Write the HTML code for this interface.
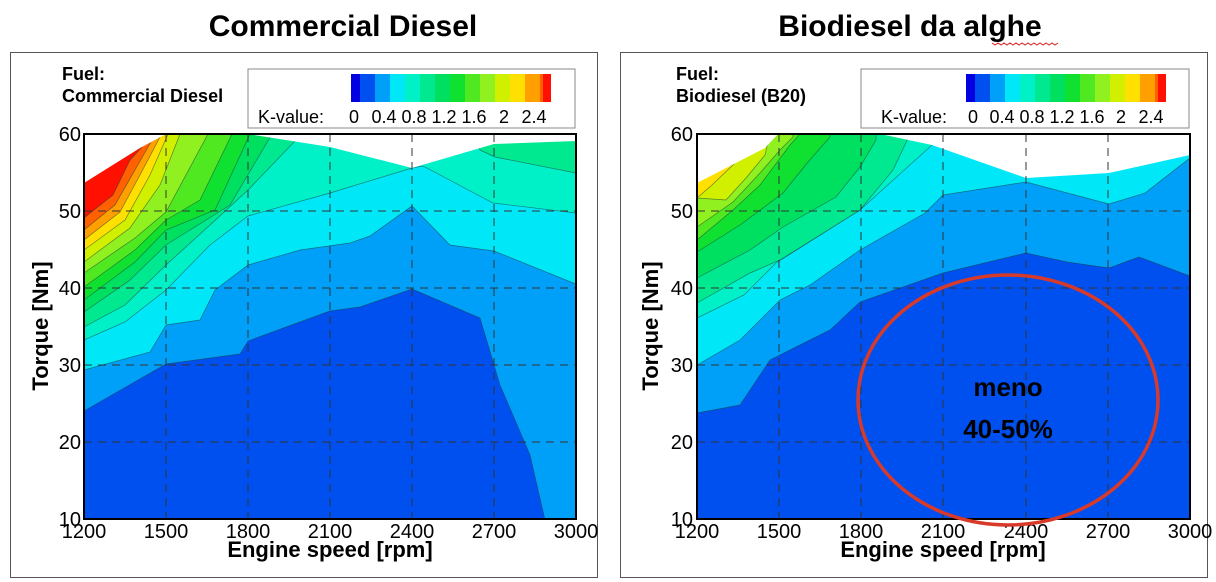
<!DOCTYPE html>
<html><head><meta charset="utf-8"><style>
html,body{margin:0;padding:0;background:#fff;}
svg{display:block;font-family:"Liberation Sans",sans-serif;}
</style></head><body>
<svg width="1216" height="582" viewBox="0 0 1216 582" xmlns="http://www.w3.org/2000/svg">
<defs>
<clipPath id="cl"><rect x="84" y="134" width="492" height="385"/></clipPath>
<clipPath id="cr"><rect x="697" y="134" width="493" height="385"/></clipPath>
</defs>
<rect width="1216" height="582" fill="#fff"/>
<text x="343" y="36" font-size="30" font-weight="bold" text-anchor="middle">Commercial Diesel</text>
<text x="910" y="36" font-size="30" font-weight="bold" text-anchor="middle">Biodiesel da alghe</text>
<path d="M992 43 l3 2 l3 -2 l3 2 l3 -2 l3 2 l3 -2 l3 2 l3 -2 l3 2 l3 -2 l3 2 l3 -2 l3 2 l3 -2 l3 2 l3 -2 l3 2 l3 -2 l3 2 l3 -2 l3 2 l3 -2" stroke="#e02020" fill="none" stroke-width="1"/>
<rect x="10.5" y="52.5" width="587" height="525" fill="none" stroke="#555"/>
<rect x="620.5" y="52.5" width="587" height="525" fill="none" stroke="#555"/>

<!-- LEFT CHART -->
<g clip-path="url(#cl)" stroke="#1a3a3a" stroke-width="0.7" stroke-opacity="0.6">
<rect x="84" y="120" width="492" height="400" fill="#00e8f8" stroke="none"/>
<polygon fill="#00a0f8" points="84,370 150,352 166,325 200,320 215,290 248,265 300,250 350,243 370,236 412,206 450,245 494,251 576,284 576,520 84,520"/>
<polygon fill="#0050f0" points="84,411 166,364 240,354 248,341 330,311 360,307 412,289 480,318 500,385 530,455 545,520 84,520"/>
<polygon fill="#00f0c8" points="84,340 125,322 166,290 210,245 248,216 330,193 412,168 423,166 493,203 576,213 576,120 84,120"/>
<polygon fill="#00e890" points="480,150 495,157 576,173 576,120 470,120"/>
<polygon fill="#00e890" points="84,327 125,305 166,265 210,225 248,190 296,140 296,120 84,120"/>
<polygon fill="#00e060" points="84,312 130,280 166,245 230,205 272,134 272,120 84,120"/>
<polygon fill="#10e030" points="84,300 135,262 166,230 215,210 250,134 250,120 84,120"/>
<polygon fill="#50e820" points="84,287 135,250 166,220 200,200 232,134 232,120 84,120"/>
<polygon fill="#90f020" points="84,273 135,238 166,212 208,134 208,120 84,120"/>
<polygon fill="#d0f000" points="84,262 130,228 160,185 180,134 180,120 84,120"/>
<polygon fill="#ffe000" points="84,250 125,220 150,175 168,134 168,120 84,120"/>
<polygon fill="#ffa000" points="84,240 120,212 140,175 160,137 160,120 84,120"/>
<polygon fill="#ff6000" points="84,230 115,205 135,170 152,140 152,120 84,120"/>
<polygon fill="#ff1000" points="84,218 113,195 130,160 142,147 142,120 84,120"/>
<polygon fill="#fff" stroke="none" points="84,120 84,183 140,148 166,134 248,134 330,147 412,168 494,144 576,141 576,120"/>
</g>
<g stroke="#333" stroke-dasharray="8,6" stroke-width="1" fill="none">
<line x1="166" y1="134" x2="166" y2="519"/><line x1="248" y1="134" x2="248" y2="519"/><line x1="330" y1="134" x2="330" y2="519"/><line x1="412" y1="134" x2="412" y2="519"/><line x1="494" y1="134" x2="494" y2="519"/>
<line x1="84" y1="211" x2="576" y2="211"/><line x1="84" y1="288" x2="576" y2="288"/><line x1="84" y1="365" x2="576" y2="365"/><line x1="84" y1="442" x2="576" y2="442"/>
</g>
<rect x="84" y="134" width="492" height="385" fill="none" stroke="#000" stroke-width="2"/>
<g font-size="20" text-anchor="end"><text x="81" y="141">60</text><text x="81" y="218">50</text><text x="81" y="295">40</text><text x="81" y="372">30</text><text x="81" y="449">20</text><text x="81" y="526">10</text></g>
<g font-size="20" text-anchor="middle"><text x="84" y="538">1200</text><text x="166" y="538">1500</text><text x="248" y="538">1800</text><text x="330" y="538">2100</text><text x="412" y="538">2400</text><text x="494" y="538">2700</text><text x="576" y="538">3000</text></g>
<text x="330" y="557" font-size="22" font-weight="bold" text-anchor="middle">Engine speed [rpm]</text>
<text transform="translate(48,326) rotate(-90)" font-size="22" font-weight="bold" text-anchor="middle">Torque [Nm]</text>
<rect x="248" y="69" width="327" height="59" fill="#fff" stroke="#888"/>
<text x="62" y="80" font-size="18" font-weight="bold">Fuel:</text>
<text x="62" y="102" font-size="18" font-weight="bold">Commercial Diesel</text>
<g transform="translate(351,74)">
<rect x="0" width="9" height="28" fill="#0000e0"/><rect x="9" width="15" height="28" fill="#0050f0"/><rect x="24" width="15" height="28" fill="#00a0f8"/><rect x="39" width="15" height="28" fill="#00e8f8"/><rect x="54" width="15" height="28" fill="#00f0c8"/><rect x="69" width="15" height="28" fill="#00e890"/><rect x="84" width="15" height="28" fill="#00e060"/><rect x="99" width="15" height="28" fill="#10e030"/><rect x="114" width="15" height="28" fill="#50e820"/><rect x="129" width="15" height="28" fill="#90f020"/><rect x="144" width="15" height="28" fill="#d0f000"/><rect x="159" width="15" height="28" fill="#ffe000"/><rect x="174" width="15" height="28" fill="#ffa000"/><rect x="189" width="8" height="28" fill="#ff6000"/><rect x="192" width="8" height="28" fill="#ff1000"/>
</g>
<text x="258" y="123" font-size="18">K-value:</text>
<g font-size="18" text-anchor="middle"><text x="354" y="123">0</text><text x="384" y="123">0.4</text><text x="414" y="123">0.8</text><text x="444" y="123">1.2</text><text x="474" y="123">1.6</text><text x="504" y="123">2</text><text x="534" y="123">2.4</text></g>

<!-- RIGHT CHART -->
<g clip-path="url(#cr)" stroke="#1a3a3a" stroke-width="0.7" stroke-opacity="0.6">
<rect x="697" y="120" width="493" height="400" fill="#00e8f8" stroke="none"/>
<polygon fill="#00a0f8" points="697,365 740,340 780,300 810,285 860,250 925,213 943,195 1026,182 1109,204 1145,193 1190,158 1190,520 697,520"/>
<polygon fill="#0050f0" points="697,413 740,405 770,360 800,345 830,330 860,302 943,273 1026,253 1067,262 1109,268 1139,257 1190,276 1190,520 697,520"/>
<polygon fill="#00f0c8" points="697,318 744,295 776,263 860,210 932,145 932,120 697,120"/>
<polygon fill="#00e890" points="697,303 750,273 780,260 860,210 893,170 910,134 910,120 697,120"/>
<polygon fill="#00e060" points="697,278 750,250 783,227 836,197 860,167 876,140 876,120 697,120"/>
<polygon fill="#10e030" points="697,252 740,225 783,193 808,162 830,137 830,120 697,120"/>
<polygon fill="#50e820" points="697,240 733,210 760,185 790,145 800,134 800,120 697,120"/>
<polygon fill="#90f020" points="697,227 733,202 760,173 780,150 793,137 793,120 697,120"/>
<polygon fill="#d0f000" points="697,198 726,200 746,178 765,155 770,134 770,120 697,120"/>
<polygon fill="#ffe000" points="697,198 712,185 735,163 735,120 697,120"/>
<polygon fill="#fff" stroke="none" points="697,120 697,183 765,148 778,134 880,134 932,145 1026,178 1109,173 1190,155 1190,120"/>
</g>
<g stroke="#333" stroke-dasharray="8,6" stroke-width="1" fill="none">
<line x1="779" y1="134" x2="779" y2="519"/><line x1="861" y1="134" x2="861" y2="519"/><line x1="943" y1="134" x2="943" y2="519"/><line x1="1026" y1="134" x2="1026" y2="519"/><line x1="1108" y1="134" x2="1108" y2="519"/>
<line x1="697" y1="211" x2="1190" y2="211"/><line x1="697" y1="288" x2="1190" y2="288"/><line x1="697" y1="365" x2="1190" y2="365"/><line x1="697" y1="442" x2="1190" y2="442"/>
</g>
<rect x="697" y="134" width="493" height="385" fill="none" stroke="#000" stroke-width="2"/>
<g font-size="20" text-anchor="end"><text x="693" y="141">60</text><text x="693" y="218">50</text><text x="693" y="295">40</text><text x="693" y="372">30</text><text x="693" y="449">20</text><text x="693" y="526">10</text></g>
<g font-size="20" text-anchor="middle"><text x="697" y="538">1200</text><text x="779" y="538">1500</text><text x="861" y="538">1800</text><text x="943" y="538">2100</text><text x="1026" y="538">2400</text><text x="1108" y="538">2700</text><text x="1190" y="538">3000</text></g>
<text x="943" y="557" font-size="22" font-weight="bold" text-anchor="middle">Engine speed [rpm]</text>
<text transform="translate(658,326) rotate(-90)" font-size="22" font-weight="bold" text-anchor="middle">Torque [Nm]</text>
<text x="676" y="80" font-size="18" font-weight="bold">Fuel:</text>
<text x="676" y="102" font-size="18" font-weight="bold">Biodiesel (B20)</text>
<rect x="861" y="69" width="328" height="59" fill="#fff" stroke="#888"/>
<g transform="translate(966,74)">
<rect x="0" width="9" height="28" fill="#0000e0"/><rect x="9" width="15" height="28" fill="#0050f0"/><rect x="24" width="15" height="28" fill="#00a0f8"/><rect x="39" width="15" height="28" fill="#00e8f8"/><rect x="54" width="15" height="28" fill="#00f0c8"/><rect x="69" width="15" height="28" fill="#00e890"/><rect x="84" width="15" height="28" fill="#00e060"/><rect x="99" width="15" height="28" fill="#10e030"/><rect x="114" width="15" height="28" fill="#50e820"/><rect x="129" width="15" height="28" fill="#90f020"/><rect x="144" width="15" height="28" fill="#d0f000"/><rect x="159" width="15" height="28" fill="#ffe000"/><rect x="174" width="15" height="28" fill="#ffa000"/><rect x="189" width="8" height="28" fill="#ff6000"/><rect x="192" width="8" height="28" fill="#ff1000"/>
</g>
<text x="881" y="123" font-size="18">K-value:</text>
<g font-size="18" text-anchor="middle"><text x="973" y="123">0</text><text x="1002" y="123">0.4</text><text x="1032" y="123">0.8</text><text x="1062" y="123">1.2</text><text x="1092" y="123">1.6</text><text x="1121" y="123">2</text><text x="1151" y="123">2.4</text></g>

<ellipse cx="1008" cy="400" rx="150" ry="125" fill="none" stroke="#d83a2a" stroke-width="3.5"/>
<text x="1008" y="396" font-size="26" font-weight="bold" text-anchor="middle">meno</text>
<text x="1008" y="438" font-size="26" font-weight="bold" text-anchor="middle">40-50%</text>
</svg>
</body></html>
